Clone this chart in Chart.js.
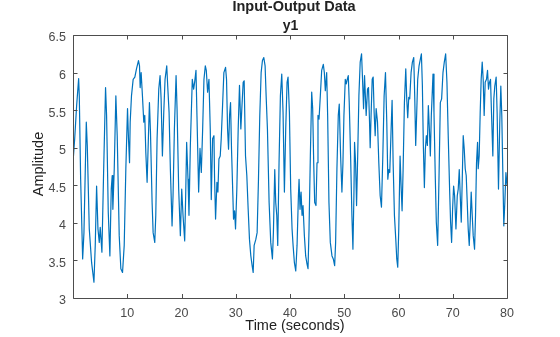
<!DOCTYPE html>
<html>
<head>
<meta charset="utf-8">
<title>Input-Output Data</title>
<script src="https://cdn.jsdelivr.net/npm/chart.js@4/dist/chart.umd.min.js"></script>
<style>
  html, body { margin: 0; padding: 0; background: #ffffff; }
  #plot { display: block; }
</style>
</head>
<body>
<canvas id="plot" width="560" height="337"></canvas>
<script>
// Measured output signal y1 against time (seconds)
const timeSec = [
  0.00, 0.31, 0.67, 1.04, 1.16, 1.41, 1.78, 2.02, 2.45, 2.63, 3.00, 3.43, 3.86, 4.10, 4.35, 4.60, 4.84, 5.02, 5.33, 5.64,
  6.00, 6.19, 6.50, 6.80, 7.05, 7.23, 7.35, 7.60, 7.90, 8.15, 8.52, 8.82, 9.13, 9.44, 9.74, 10.05, 10.23, 10.42, 10.54, 10.78,
  11.09, 11.40, 11.70, 12.07, 12.26, 12.38, 12.56, 12.80, 13.05, 13.23, 13.42, 13.66, 13.91, 14.09, 14.28, 14.58, 14.77, 15.07, 15.26, 15.50,
  15.81, 16.05, 16.24, 16.48, 16.73, 16.97, 17.28, 17.46, 17.71, 17.95, 18.26, 18.44, 18.69, 19.00, 19.18, 19.48, 19.79, 20.04, 20.28, 20.59,
  20.77, 20.95, 21.20, 21.38, 21.63, 21.99, 22.24, 22.42, 22.67, 22.85, 23.16, 23.41, 23.65, 23.90, 24.14, 24.39, 24.57, 24.81, 25.06, 25.30,
  25.49, 25.73, 25.98, 26.10, 26.28, 26.53, 26.71, 26.90, 27.14, 27.32, 27.57, 27.81, 28.12, 28.30, 28.49, 28.67, 28.86, 29.04, 29.22, 29.47,
  29.59, 29.78, 29.96, 30.20, 30.45, 30.69, 30.94, 31.12, 31.37, 31.55, 31.80, 32.04, 32.29, 32.53, 32.78, 33.02, 33.21, 33.39, 33.70, 33.94,
  34.19, 34.43, 34.68, 34.92, 35.17, 35.41, 35.60, 35.84, 36.15, 36.45, 36.76, 36.94, 37.19, 37.37, 37.56, 37.74, 37.98, 38.23, 38.48, 38.72,
  38.97, 39.21, 39.46, 39.64, 39.89, 40.13, 40.38, 40.57, 40.81, 41.06, 41.30, 41.55, 41.67, 41.85, 42.04, 42.22, 42.40, 42.65, 42.89, 43.14,
  43.32, 43.51, 43.75, 44.00, 44.18, 44.37, 44.55, 44.79, 44.98, 45.16, 45.35, 45.59, 45.84, 46.14, 46.33, 46.51, 46.76, 46.94, 47.18, 47.43,
  47.74, 47.98, 48.23, 48.41, 48.65, 48.90, 49.08, 49.33, 49.57, 49.76, 49.94, 50.19, 50.37, 50.55, 50.74, 50.92, 51.17, 51.41, 51.60, 51.78,
  51.90, 52.09, 52.27, 52.45, 52.70, 52.94, 53.19, 53.37, 53.56, 53.74, 54.04, 54.29, 54.47, 54.66, 54.78, 54.96, 55.15, 55.33, 55.51, 55.70,
  55.88, 56.13, 56.37, 56.62, 56.86, 57.11, 57.35, 57.60, 57.84, 58.03, 58.21, 58.39, 58.64, 58.82, 59.01, 59.25, 59.50, 59.68, 59.86, 60.05,
  60.29, 60.48, 60.66, 60.85, 61.09, 61.34, 61.52, 61.70, 61.89, 62.07, 62.32, 62.56, 62.81, 62.99, 63.17, 63.36, 63.54, 63.79, 64.03, 64.22,
  64.40, 64.58, 64.77, 64.95, 65.13, 65.32, 65.50, 65.69, 65.87, 66.05, 66.36, 66.54, 66.79, 66.97, 67.22, 67.46, 67.71, 67.95, 68.20, 68.44,
  68.69, 68.93, 69.18, 69.42, 69.60, 69.79, 69.97, 70.16, 70.34, 70.59, 70.83, 71.01, 71.20, 71.38, 71.57, 71.75, 71.93, 72.12, 72.30, 72.48,
  72.67, 72.85, 73.04, 73.22, 73.40, 73.59, 73.77, 74.02, 74.20, 74.38, 74.57, 74.69, 74.87, 75.06, 75.24, 75.43, 75.61, 75.79, 75.98, 76.22,
  76.41, 76.59, 76.77, 76.96, 77.14, 77.39, 77.57, 77.75, 78.00, 78.18, 78.43, 78.67, 78.86, 79.04, 79.22, 79.41, 79.60, 79.80, 80.00
];
const y1 = [
  4.80, 5.12, 5.56, 5.92, 5.69, 4.58, 3.52, 3.87, 5.34, 5.03, 3.92, 3.47, 3.21, 3.70, 4.49, 3.92, 3.74, 3.94, 3.61, 4.67,
  5.80, 5.43, 4.14, 3.56, 4.45, 4.63, 4.18, 4.71, 5.69, 5.16, 3.83, 3.39, 3.34, 3.70, 4.72, 5.52, 5.12, 4.80, 5.34, 5.69,
  5.91, 5.94, 6.05, 6.16, 6.09, 5.80, 6.00, 5.69, 5.34, 5.43, 4.94, 4.54, 5.16, 5.60, 5.21, 4.27, 3.87, 3.74, 4.10, 5.12,
  5.78, 5.96, 5.65, 4.89, 5.47, 5.91, 6.09, 5.82, 5.47, 4.71, 3.96, 4.36, 5.25, 5.96, 5.52, 4.45, 3.83, 4.45, 4.10, 3.76,
  4.36, 5.07, 4.58, 4.10, 5.03, 5.91, 5.78, 5.87, 6.03, 5.43, 4.41, 4.99, 4.67, 5.25, 5.91, 6.09, 6.03, 5.74, 5.91, 5.25,
  4.31, 5.12, 5.16, 4.58, 4.05, 4.54, 4.41, 4.85, 4.89, 5.12, 5.56, 6.00, 6.07, 5.91, 5.25, 4.98, 5.43, 5.60, 4.98, 4.36,
  4.05, 4.16, 3.92, 4.45, 5.25, 5.83, 5.25, 5.52, 5.87, 5.89, 4.89, 4.63, 4.18, 3.78, 3.56, 3.43, 3.34, 3.70, 3.78, 3.87,
  4.58, 5.43, 6.00, 6.16, 6.20, 6.09, 5.69, 5.25, 4.27, 3.74, 3.52, 3.87, 4.71, 4.27, 4.10, 3.70, 4.80, 5.69, 5.98, 5.47,
  4.41, 5.25, 5.87, 5.94, 5.47, 4.45, 3.92, 3.70, 3.47, 3.36, 3.70, 4.36, 4.58, 4.18, 4.41, 4.10, 4.23, 3.83, 3.56, 3.45,
  3.39, 3.92, 4.89, 5.74, 5.52, 4.80, 4.27, 4.23, 4.80, 5.43, 5.38, 5.69, 6.03, 6.11, 6.00, 5.76, 6.00, 5.43, 4.27, 3.74,
  3.56, 3.52, 3.43, 3.74, 4.72, 5.43, 5.58, 4.89, 4.41, 4.80, 5.43, 5.91, 5.85, 5.91, 5.96, 5.60, 4.89, 4.10, 3.65, 4.36,
  5.07, 4.80, 4.23, 4.80, 5.69, 6.14, 6.25, 5.91, 5.52, 5.96, 5.43, 5.78, 5.80, 5.34, 5.00, 5.47, 5.91, 5.94, 5.47, 5.16,
  5.52, 5.34, 4.80, 4.36, 4.21, 4.89, 5.69, 6.00, 5.34, 4.58, 4.71, 4.67, 5.25, 5.63, 4.80, 4.10, 3.78, 3.52, 3.41, 3.92,
  4.89, 4.49, 4.16, 4.71, 5.60, 6.05, 5.65, 5.40, 5.67, 5.65, 6.00, 6.14, 6.20, 5.69, 5.03, 5.47, 5.91, 6.09, 6.18, 6.25,
  5.83, 5.03, 4.47, 4.98, 5.16, 5.03, 5.56, 5.25, 4.89, 5.43, 5.98, 5.47, 4.58, 4.01, 3.70, 4.58, 5.60, 5.65, 6.00, 6.14,
  6.25, 5.87, 5.12, 4.45, 4.01, 3.74, 4.18, 4.49, 4.36, 3.92, 4.36, 4.45, 4.71, 4.36, 4.01, 4.58, 5.16, 4.98, 4.72, 4.63,
  4.27, 3.92, 3.70, 4.01, 4.41, 4.10, 3.83, 3.65, 4.10, 4.80, 5.07, 4.72, 4.89, 5.47, 5.91, 6.14, 5.91, 5.43, 5.87, 5.91,
  6.03, 5.78, 5.87, 5.91, 5.47, 4.89, 5.65, 5.82, 5.94, 5.47, 4.45, 5.34, 5.82, 5.43, 4.71, 3.96, 4.27, 4.67, 4.50
];

// Axis ticks
const xTicks = [0, 10, 20, 30, 40, 50, 60, 70, 80];
const yTicks = [3, 3.5, 4, 4.5, 5, 5.5, 6, 6.5];

// Text
const figureTitle = 'Input-Output Data';
const axesTitle = 'y1';
const xLabel = 'Time (seconds)';
const yLabel = 'Amplitude';

const FONT = "'Liberation Sans', Arial, Helvetica, sans-serif";
const LINE_BLUE = '#0072BD';
const AXIS_GRAY = '#4d4d4d';
const TICK_TEXT = '#4a4a4a';
const TITLE_TEXT = '#222222';

// Box around the axes, inward tick marks and the text labels
const axesDecor = {
  id: 'axesDecor',
  afterDatasetsDraw(chart) {
    const { ctx, chartArea: a, scales } = chart;
    const xs = scales.x, ys = scales.y;
    const tl = 4;
    ctx.save();
    ctx.strokeStyle = AXIS_GRAY;
    ctx.lineWidth = 1;
    ctx.beginPath();
    ctx.rect(a.left + 0.5, a.top + 0.5, a.right - a.left, a.bottom - a.top);
    xTicks.forEach(v => {
      const px = Math.round(xs.getPixelForValue(v)) + 0.5;
      ctx.moveTo(px, a.bottom); ctx.lineTo(px, a.bottom - tl);
      ctx.moveTo(px, a.top + 0.5); ctx.lineTo(px, a.top + 0.5 + tl);
    });
    yTicks.forEach(v => {
      const py = Math.round(ys.getPixelForValue(v)) + 0.5;
      ctx.moveTo(a.left + 0.5, py); ctx.lineTo(a.left + 0.5 + tl, py);
      ctx.moveTo(a.right + 0.5, py); ctx.lineTo(a.right + 0.5 - tl, py);
    });
    ctx.stroke();

    ctx.fillStyle = TITLE_TEXT;
    ctx.textAlign = 'center';
    ctx.textBaseline = 'alphabetic';
    ctx.font = 'bold 14.5px ' + FONT;
    ctx.fillText(figureTitle, 294, 11);
    ctx.font = 'bold 14px ' + FONT;
    ctx.fillText(axesTitle, 290.5, 30);

    ctx.font = '14.5px ' + FONT;
    ctx.fillText(xLabel, 295, 330);

    ctx.save();
    ctx.translate(43, 164);
    ctx.rotate(-Math.PI / 2);
    ctx.fillText(yLabel, 0, 0);
    ctx.restore();
    ctx.restore();
  }
};

const chart = new Chart(document.getElementById('plot'), {
  type: 'line',
  data: {
    datasets: [{
      label: 'y1',
      data: timeSec.map((t, i) => ({ x: t, y: y1[i] })),
      borderColor: LINE_BLUE,
      borderWidth: 1.2,
      pointRadius: 0,
      tension: 0,
      fill: false,
      borderJoinStyle: 'round'
    }]
  },
  options: {
    responsive: false,
    animation: false,
    devicePixelRatio: 1,
    layout: { padding: { top: 35, right: 53, bottom: 0, left: 0 } },
    plugins: { legend: { display: false }, tooltip: { enabled: false }, title: { display: false } },
    scales: {
      x: {
        type: 'linear',
        min: 0,
        max: 80,
        afterBuildTicks: s => { s.ticks = xTicks.map(v => ({ value: v })); },
        afterFit: s => { s.height = 39; },
        grid: { display: false, drawTicks: false },
        border: { display: false },
        ticks: {
          autoSkip: false,
          maxRotation: 0,
          padding: 8,
          color: TICK_TEXT,
          font: { family: FONT, size: 12.5 },
          callback: v => (v === 0 ? '' : String(v))
        }
      },
      y: {
        type: 'linear',
        min: 3,
        max: 6.5,
        afterBuildTicks: s => { s.ticks = yTicks.map(v => ({ value: v })); },
        afterFit: s => { s.width = 73; },
        grid: { display: false, drawTicks: false },
        border: { display: false },
        ticks: {
          autoSkip: false,
          padding: 7,
          labelOffset: 3,
          color: TICK_TEXT,
          font: { family: FONT, size: 12.5 },
          callback: v => String(v)
        }
      }
    }
  },
  plugins: [axesDecor]
});
</script>
</body>
</html>
